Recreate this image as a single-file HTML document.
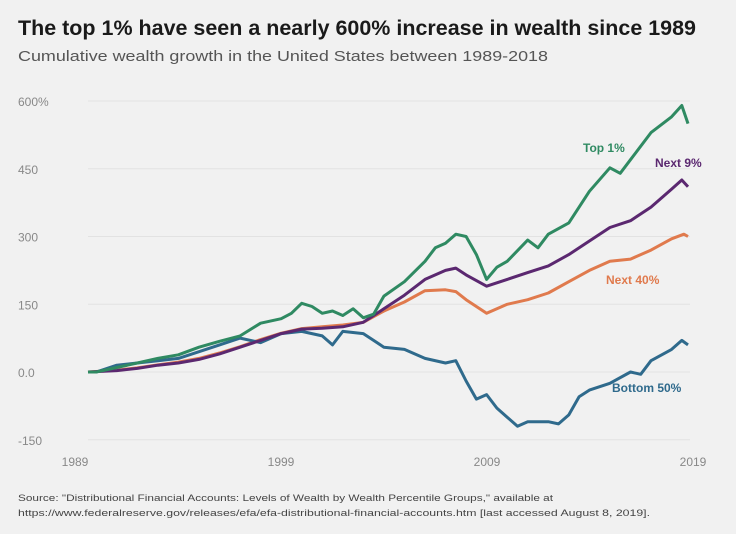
<!DOCTYPE html>
<html><head><meta charset="utf-8"><style>
body{margin:0;background:#f1f1f1;}
svg{display:block;font-family:"Liberation Sans",sans-serif;}
</style></head><body>
<svg id="chart" width="736" height="534" viewBox="0 0 736 534">
<rect width="736" height="534" fill="#f1f1f1"/>
<text x="18" y="35" font-size="21" font-weight="bold" fill="#1a1a1a" textLength="678" lengthAdjust="spacingAndGlyphs">The top 1% have seen a nearly 600% increase in wealth since 1989</text>
<text x="18" y="61" font-size="15" fill="#555" textLength="530" lengthAdjust="spacingAndGlyphs">Cumulative wealth growth in the United States between 1989-2018</text>
<g id="grid"></g><g id="lines"></g>
<text x="18" y="501" font-size="9" fill="#444" textLength="535" lengthAdjust="spacingAndGlyphs">Source: "Distributional Financial Accounts: Levels of Wealth by Wealth Percentile Groups," available at</text>
<text x="18" y="516" font-size="9" fill="#444" textLength="632" lengthAdjust="spacingAndGlyphs">https://www.federalreserve.gov/releases/efa/efa-distributional-financial-accounts.htm [last accessed August 8, 2019].</text>
</svg>
<script>
const yTicks=[600,450,300,150,0,-150];
const yTickLabels=["600%","450","300","150","0.0","-150"];
const xTicks=[1989,1999,2009,2019];
const seriesNames=["Top 1%","Next 9%","Next 40%","Bottom 50%"];
const top1X=[1989.6,1990,1991,1992,1993,1994,1995,1996,1997,1998,1999,1999.5,2000,2000.5,2001,2001.5,2002,2002.5,2003,2003.5,2004,2005,2006,2006.5,2007,2007.5,2008,2008.5,2009,2009.5,2010,2011,2011.5,2012,2013,2014,2015,2015.5,2016,2017,2018,2018.5,2018.8];
const top1Y=[0,0,10,20,30,38,55,68,80,108,118,130,152,145,130,135,125,140,120,128,168,200,245,275,285,305,300,260,205,232,245,292,275,305,330,400,452,440,470,530,565,590,550];
const next9X=[1989.6,1991,1992,1993,1994,1995,1996,1997,1998,1999,2000,2001,2002,2003,2004,2005,2006,2007,2007.5,2008,2009,2010,2011,2012,2013,2014,2015,2016,2017,2018,2018.5,2018.8];
const next9Y=[0,3,8,15,20,28,40,55,70,85,95,97,100,110,140,170,205,225,230,215,190,205,220,235,260,290,320,335,365,405,425,410];
const next40X=[1989.6,1991,1992,1993,1994,1995,1996,1997,1998,1999,2000,2001,2002,2003,2004,2005,2006,2007,2007.5,2008,2009,2010,2011,2012,2013,2014,2015,2016,2017,2018,2018.6,2018.8];
const next40Y=[0,4,9,16,22,30,42,56,72,86,96,100,104,110,135,155,180,182,178,160,130,150,160,175,200,225,245,250,270,295,305,300];
const bottom50X=[1989.6,1990,1991,1992,1993,1994,1995,1996,1997,1998,1999,2000,2001,2001.5,2002,2003,2003.5,2004,2005,2006,2007,2007.5,2008,2008.5,2009,2009.5,2010,2010.5,2011,2012,2012.5,2013,2013.5,2014,2015,2016,2016.5,2017,2018,2018.5,2018.8];
const bottom50Y=[0,0,15,20,25,30,45,60,75,65,85,90,80,60,90,85,70,55,50,30,20,25,-20,-60,-50,-80,-100,-120,-110,-110,-115,-95,-55,-40,-25,0,-5,25,50,70,60];
const NS="http://www.w3.org/2000/svg";
function xs(yr){return 88+(yr-1989.6)*(600/29.2);}
function ys(v){return 372-v*(271/600);}
const grid=document.getElementById('grid');
yTicks.forEach((t,i)=>{
 const l=document.createElementNS(NS,'line');
 l.setAttribute('x1',88);l.setAttribute('x2',690);l.setAttribute('y1',ys(t));l.setAttribute('y2',ys(t));
 l.setAttribute('stroke','#e2e2e2');l.setAttribute('stroke-width','1');
 
 
 grid.appendChild(l);
 const tx=document.createElementNS(NS,'text');
 tx.setAttribute('x',18);tx.setAttribute('y',ys(t)+5);tx.setAttribute('font-size','12');tx.setAttribute('fill','#888');
 tx.textContent=yTickLabels[i];
 
 
 grid.appendChild(tx);
});
xTicks.forEach(t=>{
 const tx=document.createElementNS(NS,'text');
 tx.setAttribute('x',75+(t-1989)*20.6);tx.setAttribute('y',466);tx.setAttribute('font-size','12');tx.setAttribute('fill','#888');tx.setAttribute('text-anchor','middle');
 tx.textContent=t;
 
 
 grid.appendChild(tx);
});
const lines=document.getElementById('lines');
const series=[[next40X,next40Y,'#e07a4d','next-40-line'],[bottom50X,bottom50Y,'#2f6a8c','bottom-50-line'],[next9X,next9Y,'#5b2870','next-9-line'],[top1X,top1Y,'#2f8a62','top-1-line']];
series.forEach(s=>{
 const p=document.createElementNS(NS,'polyline');
 p.setAttribute('points',s[0].map((x,i)=>xs(x).toFixed(1)+','+ys(s[1][i]).toFixed(1)).join(' '));
 p.setAttribute('fill','none');p.setAttribute('stroke',s[2]);p.setAttribute('stroke-width','3');p.setAttribute('stroke-linejoin','round');
 
 
 lines.appendChild(p);
});
const labels=[[seriesNames[0],583,152,'#2f8a62','top-1-label'],[seriesNames[1],655,167,'#5b2870','next-9-label'],[seriesNames[2],606,284,'#e07a4d','next-40-label'],[seriesNames[3],612,392,'#2f6a8c','bottom-50-label']];
labels.forEach(l=>{
 const t=document.createElementNS(NS,'text');
 t.setAttribute('x',l[1]);t.setAttribute('y',l[2]);t.setAttribute('font-size','12');t.setAttribute('font-weight','bold');t.setAttribute('fill',l[3]);
 t.textContent=l[0];
 
 
 lines.appendChild(t);
});
</script>
</body></html>
